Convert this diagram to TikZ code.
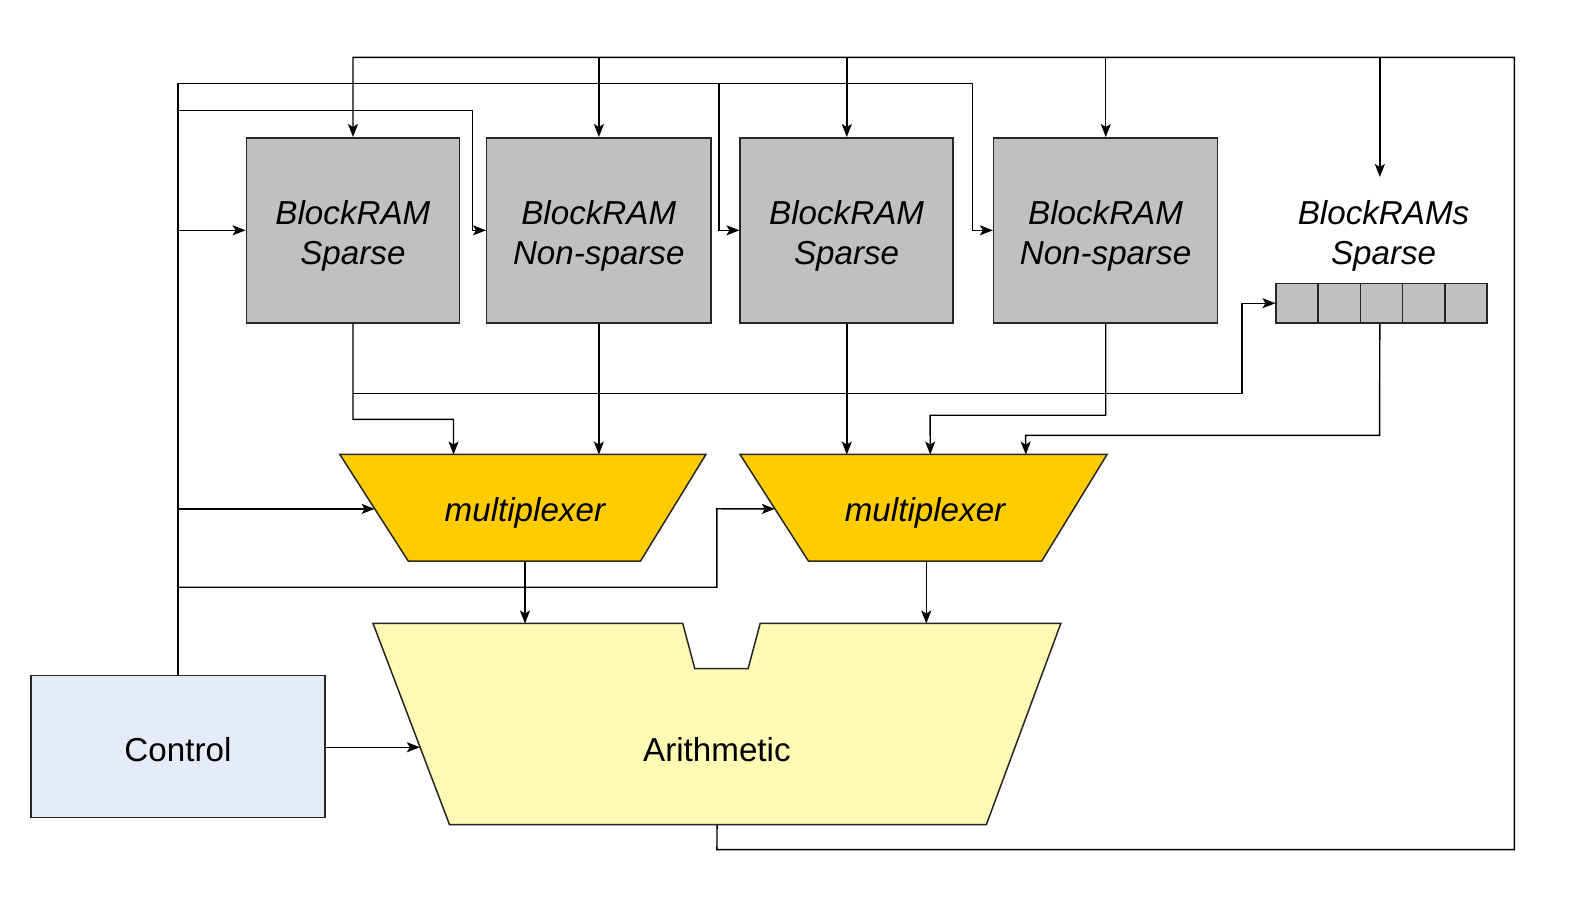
\documentclass[tikz,border=0pt]{standalone}
\usepackage{fontspec}
\setmainfont{Liberation Sans}
\usetikzlibrary{arrows.meta}
\definecolor{ramgray}{HTML}{C0C0C0}
\definecolor{muxgold}{HTML}{FFCC00}
\definecolor{arithyellow}{HTML}{FFFBB4}
\definecolor{ctrlblue}{HTML}{E5ECF7}
\begin{document}
\begin{tikzpicture}[x=1pt,y=-1pt,scale=1.0055,transform shape,
  wire/.style={line width=1.4pt,draw=black},
  arr/.style={wire,-{Stealth[length=13pt,width=10pt,inset=3pt]}},
  shapeline/.style={draw=black!85,line width=1.5pt},
  bigtext/.style={font=\fontsize{33}{40}\selectfont,align=center,inner sep=0pt},
  ittext/.style={bigtext,font=\fontsize{33}{40}\selectfont\itshape},
  ram/.style={shapeline,fill=ramgray,minimum width=#1,minimum height=184pt,inner sep=0pt},
  cell/.style={shapeline,fill=ramgray,minimum width=42pt,minimum height=39pt,inner sep=0pt},
  mux/.style={shapeline,fill=muxgold},
  arith/.style={shapeline,fill=arithyellow},
  ctrlbox/.style={shapeline,fill=ctrlblue,minimum width=292pt,minimum height=141pt,inner sep=0pt}
]
\useasboundingbox (0,0) rectangle (1567.38,903.03);

% BlockRAMs
\node[ram=212pt] (b1) at (351,229) {};
\node[ram=223pt] (b2) at (595.5,229) {};
\node[ram=212pt] (b3) at (842,229) {};
\node[ram=223pt] (b4) at (1099.5,229) {};
\node[ittext] (b1t) at (351,235) {BlockRAM\\Sparse};
\node[ittext] (b2t) at (595.5,235) {BlockRAM\\Non-sparse};
\node[ittext] (b3t) at (842,235) {BlockRAM\\Sparse};
\node[ittext] (b4t) at (1099.5,235) {BlockRAM\\Non-sparse};

% register strip
\node[cell] (r1) at (1290,301.5) {};
\node[cell] (r2) at (1332,301.5) {};
\node[cell] (r3) at (1374,301.5) {};
\node[cell] (r4) at (1416,301.5) {};
\node[cell] (r5) at (1458,301.5) {};
\node[ittext] (rl) at (1376,235) {BlockRAMs\\Sparse};
\coordinate (rin) at (1372,176);

% multiplexers
\draw[mux] (338,452) -- (702,452) -- (637,558) -- (406,558) -- cycle;
\node[ittext] (m1) at (522,510) {multiplexer};
\draw[mux] (736,452) -- (1101,452) -- (1036,558) -- (804,558) -- cycle;
\node[ittext] (m2) at (920,510) {multiplexer};
\coordinate (m1a) at (451,452);
\coordinate (m2b) at (925,452);
\coordinate (m2c) at (1020,452);
\coordinate (mtop) at (0,452);
\coordinate (m1in) at (372.5,506);
\coordinate (m2in) at (770.5,506);
\coordinate (m1out) at (522,558);
\coordinate (m2out) at (921,558);

% arithmetic
\draw[arith] (371,620) -- (679,620) -- (691,665) -- (744,665) -- (756,620) -- (1055,620) -- (981,820) -- (447,820) -- cycle;
\node[bigtext] (ar) at (713,746) {Arithmetic};
\coordinate (arA) at (522,620);
\coordinate (arB) at (921,620);
\coordinate (arL) at (417.5,743);
\coordinate (arOut) at (713,820);

% control
\node[ctrlbox] (ctrl) at (177,742.5) {};
\node[bigtext] (ctrlt) at (177,745.5) {Control};

% feedback / top bus
\coordinate (topbus) at (0,57);
\draw[arr] (arOut) -- (713,845) -- (1506,845) -- (1506,57) -- (b1.north |- topbus) -- (b1.north);
\draw[arr] (b2.north |- topbus) -- (b2.north);
\draw[arr] (b3.north |- topbus) -- (b3.north);
\draw[arr] (b4.north |- topbus) -- (b4.north);
\draw[arr] (rin |- topbus) -- (rin);

% control buses
\coordinate (cbus) at (0,83);
\coordinate (cbus2) at (0,110);
\coordinate (j3) at (715,83);
\coordinate (j4) at (967,83);
\coordinate (j2) at (470,110);
\coordinate (jr) at (1235,391);
\draw[arr] (ctrl.north) -- (ctrl.north |- cbus) -- (j4) -- (j4 |- b4.west) -- (b4.west);
\draw[arr] (j3) -- (j3 |- b3.west) -- (b3.west);
\draw[arr] (ctrl.north |- cbus2) -- (j2) -- (j2 |- b2.west) -- (b2.west);
\draw[arr] (ctrl.north |- b1.west) -- (b1.west);
\draw[arr] (ctrl.north |- m1in) -- (m1in);
\draw[arr] (177,584) -- (713,584) -- (713,506) -- (m2in);
\draw[arr] (ctrl.east |- arL) -- (arL);

% RAM outputs
\draw[arr] (b1.south) -- (b1.south |- 0,417) -- (451,417) -- (m1a);
\draw[arr] (b1.south |- jr) -- (jr) -- (jr |- r1.west) -- (r1.west);
\draw[arr] (b2.south) -- (b2.south |- mtop);
\draw[arr] (b3.south) -- (b3.south |- mtop);
\draw[arr] (b4.south) -- (b4.south |- 0,413) -- (925,413) -- (m2b);
\draw[arr] (rin |- r3.south) -- (1372,433) -- (1020,433) -- (m2c);

% mux outputs
\draw[arr] (m1out) -- (arA);
\draw[arr] (m2out) -- (arB);
\end{tikzpicture}
\end{document}
